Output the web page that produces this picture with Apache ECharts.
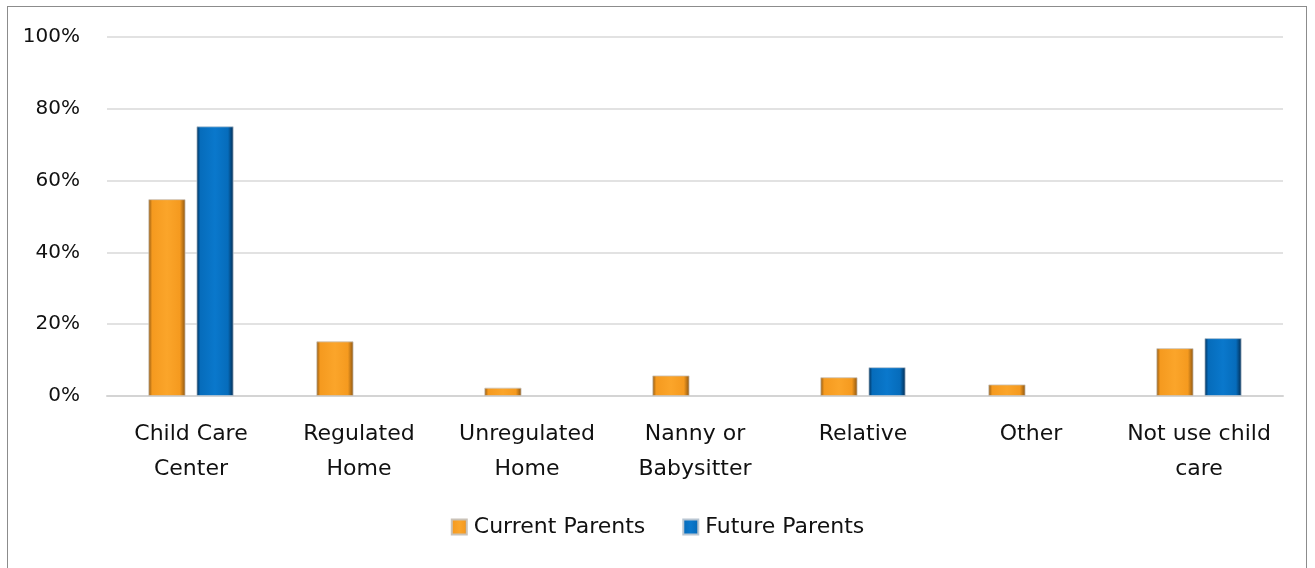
<!DOCTYPE html>
<html>
<head>
<meta charset="utf-8">
<script src="https://cdn.jsdelivr.net/npm/echarts@6/dist/echarts.min.js"></script>
<style>
  html, body { margin: 0; padding: 0; background: #fff; }
  #frame { position: absolute; left: 7px; top: 6px; width: 1300px; height: 570px; border: 1px solid #8c8c8c; box-sizing: border-box; }
  #chart { position: absolute; left: 0; top: 0; width: 1315px; height: 568px; }
</style>
</head>
<body>
<div id="frame"></div>
<div id="chart"></div>
<script>
// care types asked about in the survey
const categories = ["Child Care\nCenter", "Regulated\nHome", "Unregulated\nHome", "Nanny or\nBabysitter", "Relative", "Other", "Not use child\ncare"];
const currentParents = [54.8, 15.2, 2.3, 5.7, 5.2, 3.2, 13.3];
// no answers for some types -> no bar
const futureParents = [75.1, null, null, null, 8.0, null, 16.1];
const yTicks = [0, 20, 40, 60, 80, 100];

const font = "DejaVu Sans";

// side-lit gradient to fake the bevelled look
function bevel(light, mid, dark) {
  return new echarts.graphic.LinearGradient(0, 0, 1, 0, [
    { offset: 0, color: dark },
    { offset: 0.1, color: mid },
    { offset: 0.5, color: light },
    { offset: 0.85, color: mid },
    { offset: 1, color: dark }
  ]);
}
const orange = bevel("#fba52a", "#f59a1f", "#8a5410");
const blue = bevel("#0a78cc", "#066cbb", "#022a4f");

const chart = echarts.init(document.getElementById("chart"));
chart.setOption({
  animation: false,
  textStyle: { fontFamily: font },
  grid: { left: 107, right: 32, top: 37, bottom: 172 },
  legend: {
    bottom: 25,
    left: "center",
    itemWidth: 15,
    itemHeight: 15,
    itemGap: 37,
    icon: "rect",
    textStyle: { fontSize: 22, color: "#111", fontFamily: font, padding: [0, 0, 0, 2] },
    data: [
      { name: "Current Parents", itemStyle: { color: orange } },
      { name: "Future Parents", itemStyle: { color: blue } }
    ]
  },
  xAxis: {
    type: "category",
    data: categories,
    axisLine: { lineStyle: { color: "#d4d4d4", width: 2 } },
    axisTick: { show: false },
    axisLabel: { fontSize: 22, color: "#111", lineHeight: 35, margin: 21, interval: 0 }
  },
  yAxis: {
    type: "value",
    min: 0,
    max: 100,
    interval: 20,
    axisLine: { show: false },
    axisTick: { show: false },
    splitLine: { lineStyle: { color: "#d9d9d9", width: 1.5 } },
    axisLabel: {
      fontSize: 20, color: "#111", margin: 27,
      formatter: v => yTicks.includes(v) ? v + "%" : ""
    }
  },
  series: [
    {
      name: "Current Parents",
      type: "bar",
      data: currentParents,
      barWidth: 37,
      barGap: "30%",
      itemStyle: { color: orange, borderColor: "#c9c2b8", borderWidth: 0.8 }
    },
    {
      name: "Future Parents",
      type: "bar",
      data: futureParents,
      barWidth: 37,
      itemStyle: { color: blue, borderColor: "#b9c6d2", borderWidth: 0.8 }
    }
  ]
});
</script>
</body>
</html>
